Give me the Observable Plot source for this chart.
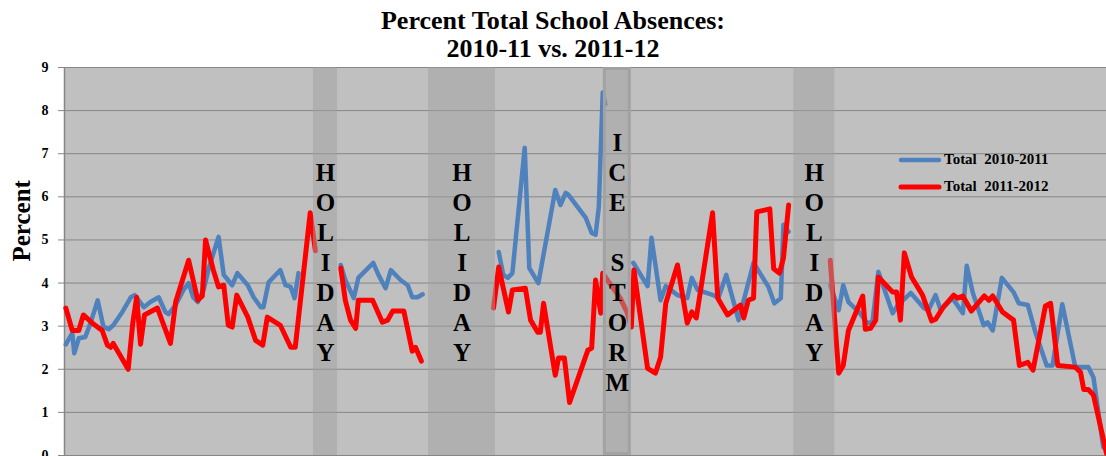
<!DOCTYPE html>
<html>
<head>
<meta charset="utf-8">
<script src="https://cdn.jsdelivr.net/npm/d3@7"></script>
<script src="https://cdn.jsdelivr.net/npm/@observablehq/plot@0.6"></script>
<style>
  html, body { margin: 0; padding: 0; background: white; }
  #wrap { position: relative; width: 1106px; height: 456px; overflow: hidden; font-family: "Liberation Serif", "Times New Roman", serif; }
  #title { box-sizing: border-box; height: 63px; padding-top: 7px; text-align: center; font-weight: bold; font-size: 26px; line-height: 28px; color: #000; }
  #chart svg { overflow: visible; }
  #legend { position: absolute; left: 898px; top: 146px; font-weight: bold; font-size: 15px; color: #000; }
  #legend .row { height: 27px; display: flex; align-items: center; white-space: pre; }
  #legend svg { margin-right: 2px; }
  svg g[aria-label="y-axis tick label"] text { font-weight: bold; }
</style>
</head>
<body>
<div id="wrap">
  <div id="title">Percent Total School Absences:<br>2010-11 vs. 2011-12</div>
  <div id="chart"></div>
  <div id="legend"></div>
</div>
<script>
// ---- data (school-day index, percent) ----
const seriesNames = ["Total  2010-2011", "Total  2011-2012"];
const seriesColors = ["#4f81bd", "#ff0000"];
const yTicks = [0, 1, 2, 3, 4, 5, 6, 7, 8, 9];

// 2010-2011 (null = break in the line)
const blueDays = [
  0.2,1.2,1.5,2.2,3.2,4.0,5.1,6.0,6.8,7.5,8.9,10.2,10.8,12.2,13.2,14.5,15.5,16.0,17.1,18.3,19.1,19.8,20.5,21.4,22.2,23.7,24.5,25.8,26.6,28.2,29.1,30.2,30.6,31.4,33.2,34.0,34.8,35.4,36.0,
  null,
  42.5,43.2,44.5,45.2,47.5,48.3,49.4,50.2,51.7,52.8,53.5,54.3,55.1,
  null,
  66.8,67.5,68.2,68.9,70.8,71.5,72.9,75.5,76.3,77.1,77.5,80.2,81.1,81.7,82.2,82.8,83.2,
  null,
  87.5,89.7,90.3,91.7,92.5,94.3,95.8,96.5,97.4,99.8,100.6,101.8,103.7,104.5,106.0,108.3,109.2,110.2,110.6,111.4,
  null,
  117.8,119.1,119.8,120.6,122.2,123.5,124.3,125.2,127.4,128.2,130.2,132.2,132.9,134.0,134.8,136.6,138.2,138.8,139.7,141.4,142.0,142.8,144.2,146.0,146.8,148.2,149.4,151.1,152.0,153.5,155.5,157.5,158.3,159.8
];
const blueVals = [
  2.58,2.84,2.37,2.72,2.75,3.07,3.6,2.98,2.93,3.02,3.33,3.67,3.72,3.44,3.56,3.67,3.33,3.28,3.49,3.84,4.0,3.67,3.56,3.84,4.35,5.07,4.19,3.95,4.23,3.95,3.67,3.44,3.44,4.02,4.3,3.95,3.91,3.65,4.23,
  null,
  4.42,4.07,3.65,4.12,4.47,4.19,3.88,4.3,4.07,3.95,3.67,3.67,3.74,
  null,
  4.72,4.19,4.12,4.23,7.14,4.35,4.0,6.16,5.81,6.09,6.05,5.51,5.16,5.12,5.77,8.42,8.15,
  null,
  4.47,3.93,5.05,3.6,3.93,3.72,3.65,4.12,3.84,3.72,3.65,4.19,3.14,3.6,4.47,3.91,3.53,3.65,5.35,5.19,
  null,
  3.95,3.37,3.95,3.56,3.33,3.07,3.1,4.26,3.3,3.49,3.77,3.42,3.37,3.72,3.37,3.65,3.3,4.4,3.79,3.02,3.09,2.9,4.12,3.79,3.53,3.49,2.84,2.09,2.09,3.51,2.05,2.05,1.81,0.19
];

// 2011-2012
const redDays = [
  0.2,1.2,2.2,2.9,4.3,5.8,6.6,7.1,7.5,9.8,10.5,11.1,11.7,12.3,14.3,16.3,17.1,19.1,20.5,21.2,21.7,22.9,23.7,24.5,25.2,25.8,26.5,28.2,29.4,30.5,31.2,33.2,34.8,35.5,37.8,38.6,
  null,
  42.5,43.2,44.0,44.8,45.2,47.4,48.9,49.7,50.5,52.2,53.5,54.0,54.9,
  null,
  66.0,66.8,68.3,68.9,70.9,71.7,72.8,73.2,73.7,75.5,76.0,76.9,77.7,80.5,81.1,81.7,82.5,82.8,83.5,85.5,86.6,87.2,87.6,89.7,90.9,91.7,92.5,94.3,95.8,96.5,97.2,99.7,100.5,102.0,104.0,104.5,105.2,106.0,106.5,108.5,109.1,110.0,110.6,111.4,
  null,
  117.8,119.1,119.8,120.6,122.8,123.2,124.0,124.8,125.2,127.4,128.0,128.6,129.2,130.3,132.0,133.4,134.0,135.2,136.8,137.4,138.2,139.5,141.5,142.2,142.8,144.3,146.0,146.9,148.2,149.0,150.9,151.7,152.8,155.5,156.3,156.8,157.5,158.3,160.3
];
const redVals = [
  3.42,2.9,2.9,3.26,3.07,2.9,2.56,2.51,2.6,2.0,3.07,3.67,2.58,3.26,3.42,2.6,3.56,4.53,3.6,3.7,5.0,4.3,3.91,3.95,3.02,2.98,3.72,3.21,2.67,2.56,3.21,3.02,2.51,2.51,5.63,4.75,
  null,
  4.35,3.6,3.14,2.95,3.6,3.6,3.09,3.14,3.35,3.35,2.42,2.51,2.19,
  null,
  3.42,4.37,3.33,3.84,3.88,3.14,2.86,2.86,3.53,1.86,2.26,2.26,1.23,2.44,2.49,4.07,3.3,4.23,4.07,3.65,3.3,2.98,4.3,2.02,1.91,2.28,3.53,4.42,3.07,3.33,3.19,5.63,3.65,3.26,3.49,3.19,3.6,3.65,5.65,5.72,4.33,4.23,4.58,5.81,
  null,
  4.53,1.91,2.09,2.9,3.7,2.93,2.95,3.14,4.14,3.79,3.79,3.14,4.7,4.14,3.72,3.12,3.16,3.44,3.72,3.65,3.7,3.35,3.7,3.6,3.7,3.33,3.14,2.09,2.16,1.98,3.47,3.53,2.09,2.05,1.93,1.53,1.53,1.4,0.05
];

// school closures (day ranges)
const closureStart = [38.3, 56.0, 82.9, 112.2];
const closureEnd   = [42.0, 66.3, 87.2, 118.5];
const closureLabel = ["HOLIDAY", "HOLIDAY", "ICE STORM", "HOLIDAY"];
const closureStorm = [false, false, true, false];

// ---- tables ----
const blue = blueDays.map((d, i) => ({day: d, value: blueVals[i]}));
const red = redDays.map((d, i) => ({day: d, value: redVals[i]}));
const closures = closureStart.map((s, i) => ({start: s, end: closureEnd[i], label: closureLabel[i], storm: closureStorm[i]}));

const grid = "#868686";
const chart = Plot.plot({
  width: 1106,
  height: 393,
  marginTop: 4,
  marginBottom: 1,
  marginLeft: 64,
  marginRight: 0,
  x: {domain: [0, 160.3], axis: null},
  y: {domain: [0, 9], axis: null},
  style: {fontFamily: "'Liberation Serif', 'Times New Roman', serif", background: "white", color: "black", overflow: "visible"},
  marks: [
    Plot.frame({fill: "#c0c0c0"}),
    Plot.ruleY(yTicks, {stroke: grid, strokeWidth: 1}),
    Plot.ruleX([0], {stroke: grid, strokeWidth: 1.5}),
    Plot.axisY({ticks: yTicks, tickSize: 6, tickPadding: 10, fontSize: 14, fontWeight: "bold", stroke: grid, label: null}),
    Plot.line(blue, {x: "day", y: "value", stroke: seriesColors[0], strokeWidth: 4.5, strokeLinejoin: "round", strokeLinecap: "round"}),
    Plot.line(red, {x: "day", y: "value", stroke: seriesColors[1], strokeWidth: 5, strokeLinejoin: "round", strokeLinecap: "round"}),
    Plot.rect(closures.filter(d => !d.storm), {x1: "start", x2: "end", fill: "#a0a0a0", fillOpacity: 0.5}),
    Plot.rect(closures.filter(d => d.storm), {x1: "start", x2: "end", fill: "#a0a0a0", fillOpacity: 0.5, stroke: "#a2a2a2", strokeWidth: 3, inset: 1.5}),
    Plot.text(closures, {
      x: d => (d.start + d.end) / 2,
      frameAnchor: "middle",
      text: d => d.label.split("").map(c => c === " " ? "" : c).join("\n"),
      lineHeight: 1.2,
      lineAnchor: "middle",
      fontSize: 25,
      fontWeight: "bold",
      fill: "black"
    }),
    Plot.text(["Percent"], {frameAnchor: "left", dx: -43, rotate: -90, fontSize: 25, fontWeight: "bold", fill: "black"})
  ]
});
document.getElementById("chart").appendChild(chart);

// legend
const legend = document.getElementById("legend");
seriesNames.forEach((name, i) => {
  const row = document.createElement("div");
  row.className = "row";
  row.innerHTML = `<svg width="44" height="10"><line x1="3" y1="5" x2="41" y2="5" stroke="${seriesColors[i]}" stroke-width="${i === 0 ? 4.5 : 5}" stroke-linecap="round"/></svg><span>${name}</span>`;
  legend.appendChild(row);
});
</script>
</body>
</html>
